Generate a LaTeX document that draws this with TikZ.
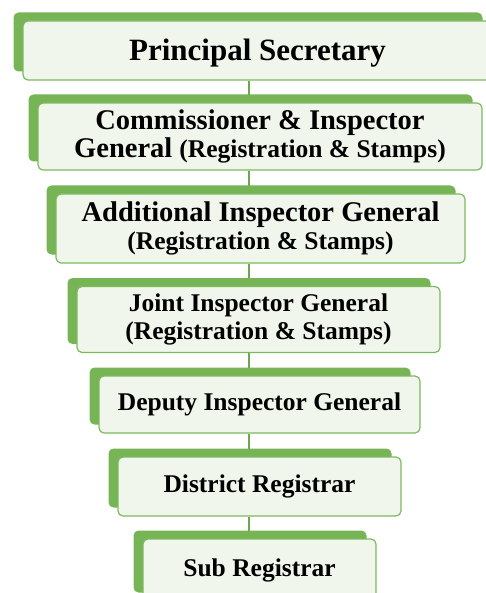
\documentclass[tikz,border=0pt]{standalone}
\usepackage{fontspec}
\setmainfont{Liberation Serif}
\usetikzlibrary{shadows,backgrounds}

\definecolor{backgreen}{RGB}{118,180,86}
\definecolor{edgegreen}{RGB}{124,186,94}
\definecolor{boxfill}{RGB}{240,246,236}
\definecolor{linkgreen}{RGB}{108,166,78}

\begin{document}
\begin{tikzpicture}[x=1pt, y=-1pt,
    post/.style = {draw=edgegreen, line width=1.2pt, fill=boxfill, rounded corners=5pt,
        align=center, inner sep=0pt, font=\bfseries,
        general shadow={fill=backgreen, shadow xshift=-9.5pt, shadow yshift=8.5pt}},
    link/.style = {draw=linkgreen, line width=2pt}]
    \useasboundingbox (0,0) rectangle (486,593);
    \coordinate (spine) at (249,0);
    \node[post, minimum width=469pt, minimum height=59pt, text depth=2pt] (ps) at (257.5,50.5)
        {\fontsize{31}{33}\selectfont Principal Secretary};
    \node[post, minimum width=444pt, minimum height=67pt] (ci) at (260,136.5)
        {\fontsize{28.5}{28}\selectfont Commissioner \& Inspector\\[1pt]
         \fontsize{28.5}{28}\selectfont General {\fontsize{25.5}{28}\selectfont (Registration \& Stamps)}};
    \node[post, minimum width=409pt, minimum height=69pt] (aig) at (260.5,228.5)
        {\fontsize{28.5}{30}\selectfont Additional Inspector General\\[3pt]
         \fontsize{25.5}{30}\selectfont (Registration \& Stamps)};
    \node[post, minimum width=363pt, minimum height=66pt] (jig) at (258.5,319.5)
        {\fontsize{25.5}{30}\selectfont Joint Inspector General\\[4pt]
         \fontsize{25.5}{30}\selectfont (Registration \& Stamps)};
    \node[post, minimum width=321pt, minimum height=57pt] (dig) at (259.5,404.5)
        {\fontsize{25.5}{28}\selectfont Deputy Inspector General};
    \node[post, minimum width=283pt, minimum height=59pt] (dr) at (259.5,486.5)
        {\fontsize{25.5}{28}\selectfont District Registrar};
    \node[post, minimum width=233pt, minimum height=62pt] (sr) at (259.5,570)
        {\fontsize{25.5}{28}\selectfont Sub Registrar};
    \begin{scope}[on background layer]
        \foreach \a/\b in {ps/ci, ci/aig, aig/jig, jig/dig, dig/dr, dr/sr}
            \draw[link] (\a.south -| spine) -- (\b.north -| spine);
    \end{scope}
\end{tikzpicture}
\end{document}
